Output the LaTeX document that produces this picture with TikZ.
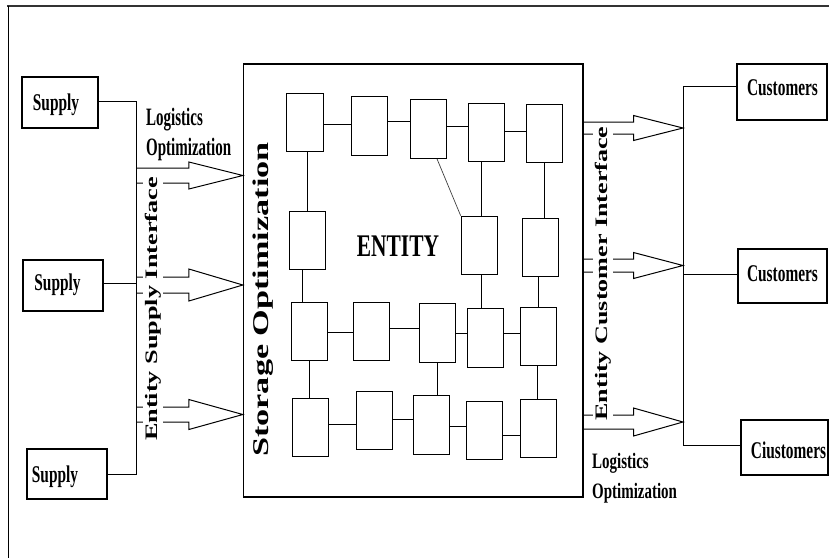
\documentclass[tikz,border=0pt]{standalone}
\usepackage{fontspec}
\setmainfont{Liberation Serif}
\usetikzlibrary{calc}

% horizontal stretch/squeeze of a piece of text
\newcommand{\hs}[2]{\scalebox{#1}[1]{#2}}

% open hollow arrow: #1 start, #2 tip, #3 head length, #4 shaft half width, #5 head half width
\newcommand{\hollowarrow}[5]{%
  \draw[arrowline] let \p1=(#1), \p2=(#2) in
    (\x1,\y2+#4) -- (\x2-#3,\y2+#4) -- (\x2-#3,\y2+#5) -- (\x2,\y2)
    -- (\x2-#3,\y2-#5) -- (\x2-#3,\y2-#4) -- (\x1,\y2-#4);}

\tikzset{
  cell/.style={draw, line width=1.2pt, minimum width=36.5pt, minimum height=58.5pt, inner sep=0pt},
  endbox/.style={draw, line width=1.1pt, inner sep=0pt},
  link/.style={line width=0.9pt},
  bus/.style={line width=1pt},
  arrowline/.style={line width=1pt, line join=miter},
  lab/.style={font=\fontsize{24}{24}\selectfont\bfseries, inner sep=0pt, anchor=base},
  loglab/.style={inner sep=0pt, anchor=base west},
  side/.style={font=\fontsize{17.5}{17.5}\selectfont\bfseries, rotate=90, fill=white,
               inner xsep=0pt, inner ysep=2pt}
}

\begin{document}
\begin{tikzpicture}[x=1pt, y=-1pt]
\useasboundingbox (0,0) rectangle (829,558);

% page frame
\draw[line width=2pt, black!80] (7,6) -- (829,6);
\draw[line width=1pt] (8,6) -- (8,558);

% entity box
\node[draw, line width=1.3pt, minimum width=339.5pt, minimum height=433pt, inner sep=0pt]
  (ent) at (413.25,280.5) {};

% storage cells
\node[cell] (A1) at (305,122.5) {};
\node[cell] (A2) at (369.5,126) {};
\node[cell] (A3) at (428.5,129) {};
\node[cell] (A4) at (486.5,132.5) {};
\node[cell] (A5) at (544.5,133.5) {};
\node[cell] (B1) at (307.5,240.5) {};
\node[cell] (B4) at (479.5,245.5) {};
\node[cell] (B5) at (540.5,247.5) {};
\node[cell] (C1) at (309.5,331.5) {};
\node[cell] (C2) at (371.5,331.5) {};
\node[cell] (C3) at (437.5,333) {};
\node[cell] (C4) at (485.5,338) {};
\node[cell] (C5) at (538.5,336.5) {};
\node[cell] (D1) at (310.5,427.5) {};
\node[cell] (D2) at (374.5,420.5) {};
\node[cell] (D3) at (431.5,425) {};
\node[cell] (D4) at (484.5,430.5) {};
\node[cell] (D5) at (538.5,428.5) {};

% links along the rows
\draw[link] (A1.east |- 0,124) -- (A2.west |- 0,124);
\draw[link] (A2.east |- 0,121) -- (A3.west |- 0,121);
\draw[link] (A3.east |- 0,126) -- (A4.west |- 0,126);
\draw[link] (A4.east |- 0,131) -- (A5.west |- 0,131);
\draw[link] (C1.east |- 0,332) -- (C2.west |- 0,332);
\draw[link] (C2.east |- 0,328) -- (C3.west |- 0,328);
\draw[link] (C3.east |- 0,333) -- (C4.west |- 0,333);
\draw[link] (C4.east |- 0,333) -- (C5.west |- 0,333);
\draw[link] (D1.east |- 0,424) -- (D2.west |- 0,424);
\draw[link] (D2.east |- 0,419) -- (D3.west |- 0,419);
\draw[link] (D3.east |- 0,426) -- (D4.west |- 0,426);
\draw[link] (D4.east |- 0,435) -- (D5.west |- 0,435);

% links between the rows
\draw[link] (A1.south -| 307,0) -- (B1.north -| 307,0);
\draw[link, line width=0.7pt, black!75] (A3.south -| 437,0) -- (B4.north west);
\draw[link] (A4.south -| 481,0) -- (B4.north -| 481,0);
\draw[link] (A5.south -| 544,0) -- (B5.north -| 544,0);
\draw[link] (B1.south -| 302,0) -- (C1.north -| 302,0);
\draw[link] (B4.south -| 481,0) -- (C4.north -| 481,0);
\draw[link] (B5.south -| 538,0) -- (C5.north -| 538,0);
\draw[link] (C1.south -| 309,0) -- (D1.north -| 309,0);
\draw[link] (C3.south -| 437,0) -- (D3.north -| 437,0);
\draw[link] (C5.south -| 537,0) -- (D5.north -| 537,0);

\node[lab, font=\fontsize{31.5}{31.5}\selectfont\bfseries] (entt) at (398,256) {\hs{0.68}{ENTITY}};

% supply side
\node[endbox, minimum width=76pt, minimum height=51pt] (s1) at (60,102.5) {};
\node[endbox, minimum width=80pt, minimum height=51pt] (s2) at (63,285.5) {};
\node[endbox, minimum width=80pt, minimum height=50pt] (s3) at (67,474) {};
\node[lab] (s1t) at (56,110.5) {\hs{0.64}{Supply}};
\node[lab] (s2t) at (57.5,290) {\hs{0.64}{Supply}};
\node[lab] (s3t) at (55,482) {\hs{0.64}{Supply}};

\coordinate (lbtop) at (136,101);
\coordinate (lbbot) at (136,474);
\draw[bus] (s1.east |- lbtop) -- (lbtop) -- (lbbot) -- (s3.east |- lbbot);
\draw[bus] (s2.east |- 0,283) -- (lbtop |- 0,283);

\coordinate (la1) at (136,175.5);
\coordinate (la2) at (136,285);
\coordinate (la3) at (136,414.5);
\hollowarrow{la1}{ent.west |- la1}{54pt}{7.5pt}{13.5pt}
\hollowarrow{la2}{ent.west |- la2}{54pt}{8pt}{16pt}
\hollowarrow{la3}{ent.west |- la3}{54pt}{7.5pt}{15pt}

\node[side] (esi) at (153.2,309) {\hs{1.5}{Entity Supply Interface}};

\node[loglab, font=\fontsize{25}{25}\selectfont\bfseries] (lo1) at (146,125.5) {\hs{0.6}{Logistics}};
\node[loglab, font=\fontsize{25}{25}\selectfont\bfseries] (lo2) at (146,155) {\hs{0.6}{Optimization}};

\node[font=\fontsize{22.5}{22.5}\selectfont\bfseries, rotate=90, inner sep=0pt]
  (sto) at (262.9,299.5) {\hs{1.52}{Storage Optimization}};

% customer side
\node[endbox, minimum width=90pt, minimum height=56pt] (k1) at (782,92) {};
\node[endbox, minimum width=89pt, minimum height=54pt] (k2) at (782.5,276) {};
\node[endbox, minimum width=87pt, minimum height=55pt] (k3) at (784.5,447.5) {};
\node[lab] (k1t) at (782.5,95) {\hs{0.64}{Customers}};
\node[lab] (k2t) at (782.5,281) {\hs{0.64}{Customers}};
\node[lab] (k3t) at (788.5,458) {\hs{0.64}{Ciustomers}};

\coordinate (rbtop) at (683,86);
\coordinate (rbbot) at (683,445);
\draw[bus] (k1.west |- rbtop) -- (rbtop) -- (rbbot) -- (k3.west |- rbbot);
\draw[bus] (rbtop |- 0,274) -- (k2.west |- 0,274);

\coordinate (ra1) at (683,128);
\coordinate (ra2) at (683,265.5);
\coordinate (ra3) at (683,422);
\hollowarrow{ent.east |- ra1}{ra1}{49.5pt}{6pt}{12.5pt}
\hollowarrow{ent.east |- ra2}{ra2}{49.5pt}{6.5pt}{13pt}
\hollowarrow{ent.east |- ra3}{ra3}{49.5pt}{7pt}{14pt}

\node[side] (eci) at (603,273.5) {\hs{1.49}{Entity Customer Interface}};

\node[loglab, font=\fontsize{22}{22}\selectfont\bfseries] (lo3) at (592,468) {\hs{0.68}{Logistics}};
\node[loglab, font=\fontsize{22}{22}\selectfont\bfseries] (lo4) at (592,498) {\hs{0.68}{Optimization}};
\end{tikzpicture}
\end{document}
